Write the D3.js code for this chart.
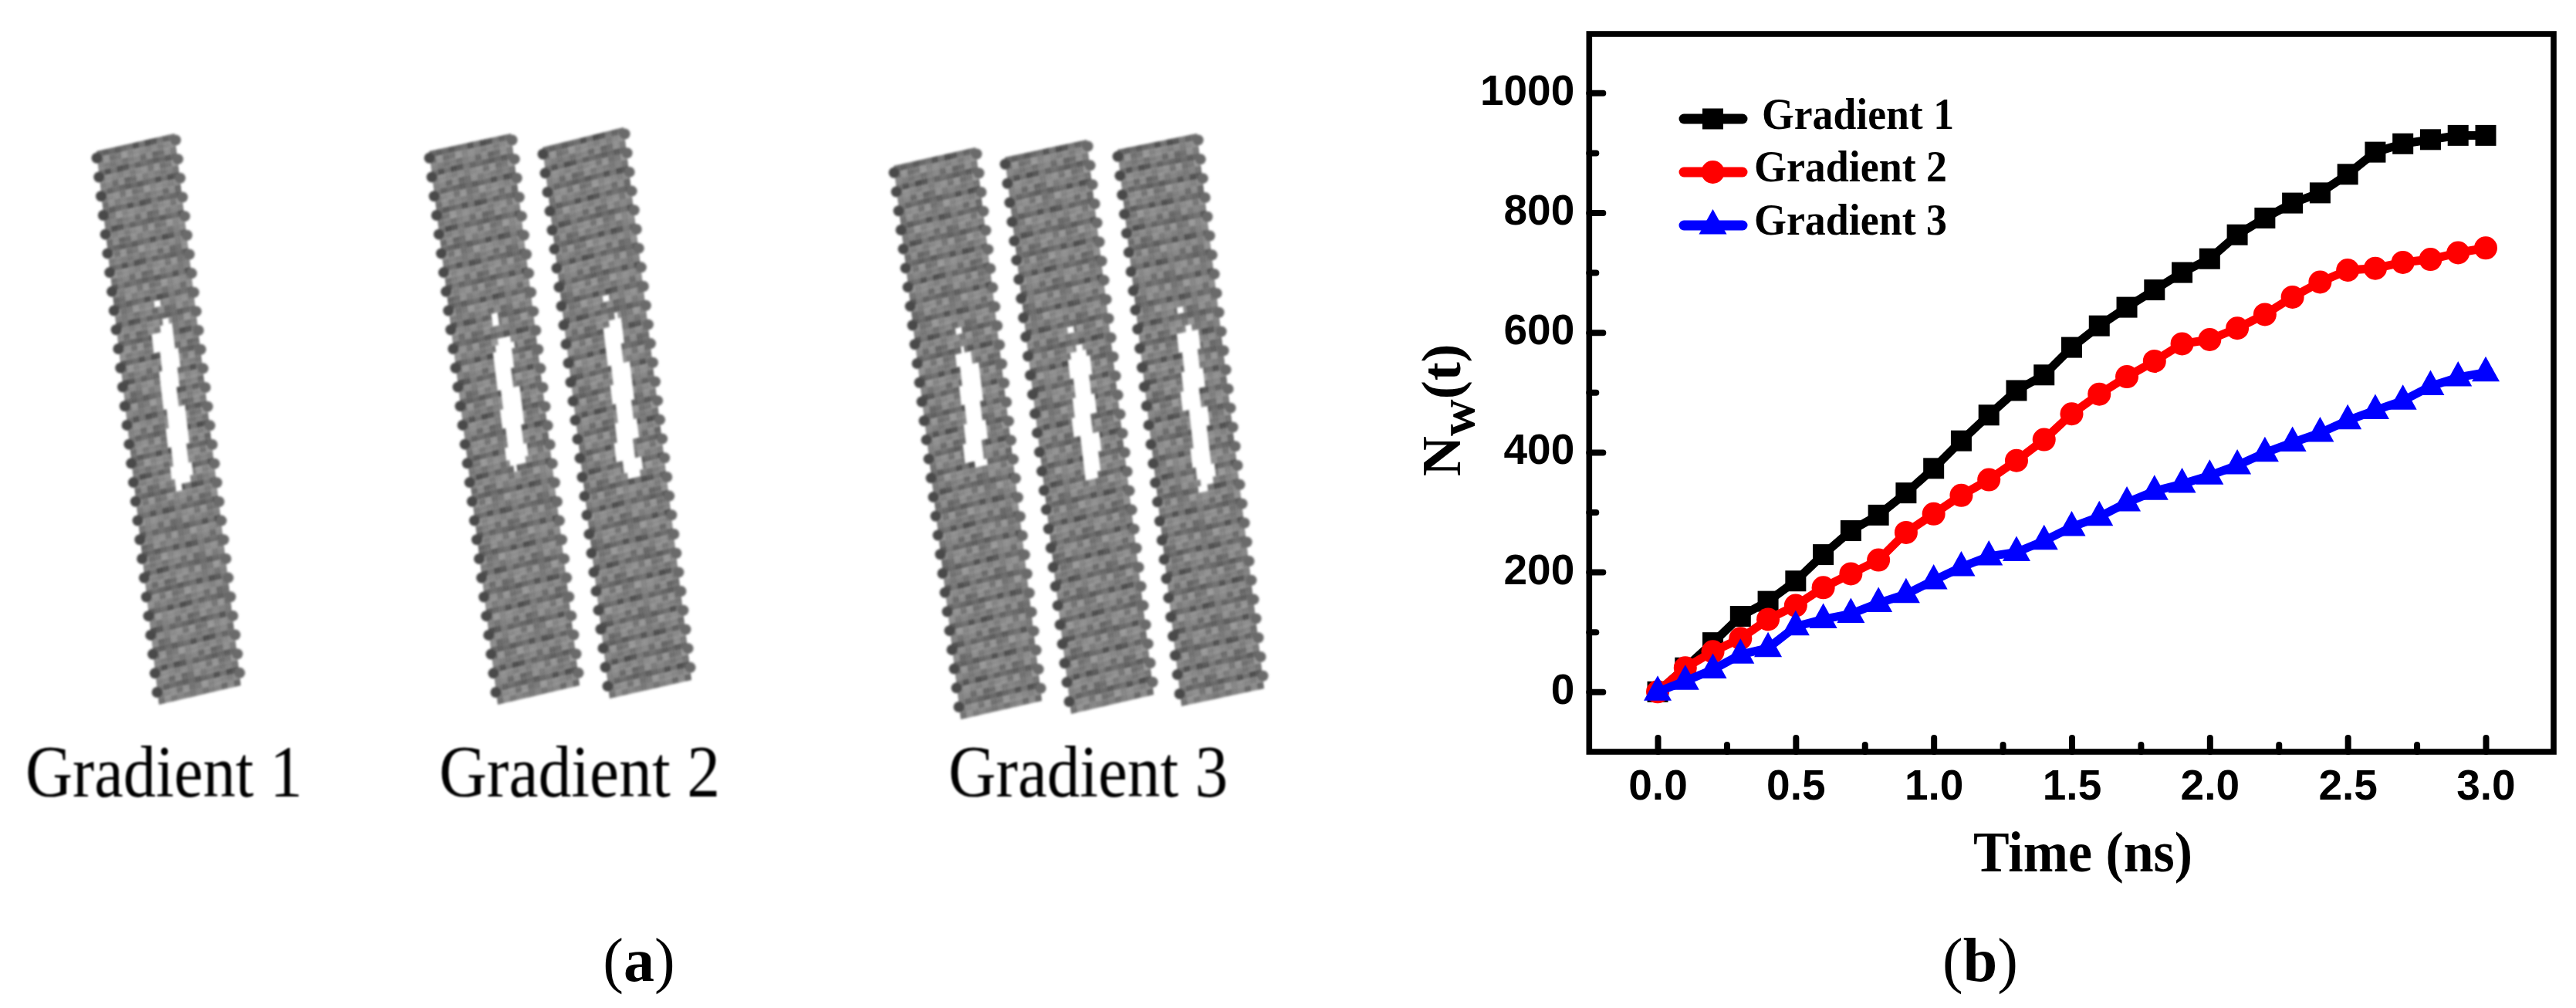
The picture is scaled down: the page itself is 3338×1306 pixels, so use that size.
<!DOCTYPE html>
<html><head><meta charset="utf-8">
<script src="https://cdn.jsdelivr.net/npm/d3@7"></script>
<style>html,body{margin:0;padding:0;background:#fff}svg{display:block}
text{fill:#000}</style></head><body><div id="c"></div>
<script>
// ---- data ----
const times=[0,.1,.2,.3,.4,.5,.6,.7,.8,.9,1,1.1,1.2,1.3,1.4,1.5,1.6,1.7,1.8,1.9,2,2.1,2.2,2.3,2.4,2.5,2.6,2.7,2.8,2.9,3];
const gradient1=[0,40,82,126,151,185,229,269,295,332,373,419,462,503,529,575,611,642,671,700,723,763,791,816,833,864,901,915,922,929,929];
const gradient2=[0,40,67,89,121,144,174,197,220,266,297,328,354,386,421,464,497,526,552,581,588,607,630,659,684,704,707,717,722,733,741];
const gradient3=[0,18,37,62,73,109,121,130,148,163,186,208,226,233,252,275,292,316,335,347,361,378,399,416,432,453,470,486,510,525,533];
const seriesNames=["Gradient 1","Gradient 2","Gradient 3"];
const seriesColors=["#000000","#ff0000","#0000ff"];
const xMajor=[0,.5,1,1.5,2,2.5,3];
const xMinor=[.25,.75,1.25,1.75,2.25,2.75];
const yMajor=[0,200,400,600,800,1000];
const yMinor=[100,300,500,700,900];
// left panel: ribbon outlines [TLx,TLy,TRx,TRy,BRx,BRy,BLx,BLy] and slot extent along ribbon
const ribbonOutlines=[
 [125,196,226,173,312,888,206,913],
 [556,196,662,173,751,888,645,913],
 [703,191,808,165,896,881,790,905],
 [1158,215,1264,191,1350,908,1245,932],
 [1302,204,1408,181,1495,900,1388,925],
 [1448,194,1551,173,1638,892,1531,915]];
const slotStart=[.32,.35,.325,.345,.355,.33];
const slotEnd=[.635,.595,.63,.57,.605,.635];
const slotWobble=[0,.03,-.02,.04,.01,-.03,.02,.045,-.015,.025,-.03,.03,0];
const panelLabels=[["Gradient 1",33,359],["Gradient 2",569,364],["Gradient 3",1229,362]];
const grayCycle=[128,112,138,120,146,108,132,124,142,116,136,104,130];

// ---- layout ----
const W=3338,H=1306;
const svg=d3.select("#c").append("svg").attr("width",W).attr("height",H).attr("viewBox",`0 0 ${W} ${H}`);
svg.append("rect").attr("width",W).attr("height",H).attr("fill","#fff");
const serif='"Liberation Serif","Times New Roman",serif', sans='"Liberation Sans",Arial,sans-serif';
const defs=svg.append("defs");
defs.append("filter").attr("id","soft").attr("x","-5%").attr("y","-5%").attr("width","110%").attr("height","110%")
  .append("feGaussianBlur").attr("stdDeviation",1.5);
defs.append("filter").attr("id","softText").attr("x","-5%").attr("y","-15%").attr("width","110%").attr("height","130%")
  .append("feGaussianBlur").attr("stdDeviation",.8);

// ---- left panel ----
const rows=29, sub=3, cols=13;
const panel=svg.append("g").attr("filter","url(#soft)");
ribbonOutlines.forEach((o,i)=>{
  const [ax,ay,bx,by,cx,cy,dx,dy]=o;
  const L=d3.interpolateArray([ax,ay],[dx,dy]), R=d3.interpolateArray([bx,by],[cx,cy]);
  const pt=(u,t)=>{const l=L(t),r=R(t);return [l[0]+(r[0]-l[0])*u,l[1]+(r[1]-l[1])*u];};
  const g=panel.append("g");
  const cells=[];
  d3.range(rows*sub).forEach(r=>d3.range(cols*2).forEach(c=>cells.push({r,c})));
  const inSlot=(u,t,r)=>{
    const a=slotStart[i],b=slotEnd[i];
    if(t<a||t>b) return false;
    const k=(t-a)/(b-a), taper=Math.min(1,Math.min(k,1-k)*12);
    const w=slotWobble[(Math.floor(r/sub)+i)%slotWobble.length];
    const ww=slotWobble[(Math.floor(r/sub)+i+5)%slotWobble.length];
    return u>.585-.115*taper+w && u<.585+.115*taper+ww;
  };
  g.selectAll("path").data(cells.filter(d=>{
      const t=(d.r+.5)/(rows*sub),u=(d.c+.5)/(cols*2);
      const nick=Math.abs(t-(slotStart[i]-.028))<.007&&Math.abs(u-.54)<.04;
      return !inSlot(u,t,d.r)&&!nick;
    })).join("path")
    .attr("d",d=>{
      const t0=d.r/(rows*sub),t1=(d.r+1)/(rows*sub),u0=d.c/(cols*2),u1=(d.c+1)/(cols*2);
      return "M"+[pt(u0,t0),pt(u1,t0),pt(u1,t1),pt(u0,t1)].map(p=>p.join(",")).join("L")+"Z";
    })
    .attr("stroke","none")
    .attr("fill",d=>{
      const base=grayCycle[(Math.floor(d.c/2)*3+d.r*5)%grayCycle.length];
      const v=d.r%sub===0?base-30:d.r%sub===1?base+4:base-6;
      return d3.rgb(v,v,v).formatHex();
    });
  // bead bumps along the two long edges
  const beads=d3.range(rows).map(r=>(r+.35)/rows);
  g.selectAll("circle.l").data(beads).join("circle").attr("class","l")
    .attr("cx",t=>pt(-.005,t)[0]).attr("cy",t=>pt(-.005,t)[1]).attr("r",7).attr("fill","#4a4a4a");
  g.selectAll("circle.r").data(beads).join("circle").attr("class","r")
    .attr("cx",t=>pt(1.005,t)[0]).attr("cy",t=>pt(1.005,t)[1]).attr("r",7).attr("fill","#6a6a6a");
});
panelLabels.forEach(([t,px,w])=>{
  svg.append("text").attr("x",px).attr("y",1032).attr("font-family",serif).attr("font-size",96)
    .attr("textLength",w).attr("lengthAdjust","spacingAndGlyphs").attr("filter","url(#softText)").text(t);
});
const cap=(px,letter)=>{
  const t=svg.append("text").attr("x",px).attr("y",1271).attr("text-anchor","middle").attr("font-family",serif).attr("font-size",80);
  t.append("tspan").text("(");
  t.append("tspan").attr("font-weight","bold").text(letter);
  t.append("tspan").text(")");
};
cap(828,"a"); cap(2566,"b");

// ---- right panel ----
const x=d3.scaleLinear().domain([-.25,3.25]).range([2058.6,3310.4]);
const y=d3.scaleLinear().domain([-100,1100]).range([973.9,42.7]);
const axisStyle=(g,w)=>{g.select(".domain").remove();
  g.selectAll(".tick line").attr("stroke","#000").attr("stroke-width",w).attr("stroke-linecap","round");};
const frameBottom=974, frameLeft=2059.3, frameTop=44, frameRight=3309;
const tickFont=55;
svg.append("g").attr("transform",`translate(0,${frameBottom})`)
  .call(d3.axisBottom(x).tickValues(xMajor).tickSize(-18).tickPadding(0).tickFormat(d3.format(".1f")))
  .call(g=>{axisStyle(g,8);g.selectAll("text").attr("font-family",sans).attr("font-weight","bold").attr("font-size",tickFont)
     .attr("fill","#000").attr("dy",null).attr("y",62);});
svg.append("g").attr("transform",`translate(0,${frameBottom})`)
  .call(d3.axisBottom(x).tickValues(xMinor).tickSize(-9).tickFormat(""))
  .call(g=>axisStyle(g,8));
svg.append("g").attr("transform",`translate(${frameLeft},0)`)
  .call(d3.axisLeft(y).tickValues(yMajor).tickSize(-18).tickPadding(0).tickFormat(d3.format("d")))
  .call(g=>{axisStyle(g,8);g.selectAll("text").attr("font-family",sans).attr("font-weight","bold").attr("font-size",tickFont)
     .attr("fill","#000").attr("x",-19).attr("dy",15);});
svg.append("g").attr("transform",`translate(${frameLeft},0)`)
  .call(d3.axisLeft(y).tickValues(yMinor).tickSize(-9).tickFormat(""))
  .call(g=>axisStyle(g,8));
svg.append("rect").attr("x",frameLeft).attr("y",frameTop).attr("width",frameRight-frameLeft).attr("height",frameBottom-frameTop)
  .attr("fill","none").attr("stroke","#000").attr("stroke-width",7.6);

const line=d3.line().x((d,i)=>x(times[i])).y(d=>y(d));
const markerPaths=[
  "M-13.5,-13.5H13.5V13.5H-13.5Z",
  d3.arc()({innerRadius:0,outerRadius:15,startAngle:0,endAngle:2*Math.PI}),
  "M0,-21L18,11.5H-18Z"];
[gradient1,gradient2,gradient3].forEach((vals,k)=>{
  const g=svg.append("g");
  g.append("path").attr("d",line(vals)).attr("fill","none").attr("stroke",seriesColors[k]).attr("stroke-width",11).attr("stroke-linejoin","round");
  g.selectAll("path.m").data(vals).join("path").attr("class","m").attr("d",markerPaths[k]).attr("fill",seriesColors[k])
    .attr("transform",(d,i)=>`translate(${x(times[i])},${y(d)})`);
});

// legend
const legendY=[154,223,292], legendTextX=[2283,2273,2273], legendBase=[167,235,304], legendW=[249,250,250];
seriesNames.forEach((n,k)=>{
  const g=svg.append("g");
  g.append("line").attr("x1",2182).attr("x2",2258).attr("y1",legendY[k]).attr("y2",legendY[k])
    .attr("stroke",seriesColors[k]).attr("stroke-width",13).attr("stroke-linecap","round");
  g.append("path").attr("d",markerPaths[k]).attr("fill",seriesColors[k]).attr("transform",`translate(2219.5,${legendY[k]})`);
  g.append("text").attr("x",legendTextX[k]).attr("y",legendBase[k]).attr("font-family",serif).attr("font-weight","bold")
    .attr("font-size",58).attr("textLength",legendW[k]).attr("lengthAdjust","spacingAndGlyphs").text(n);
});

// axis titles
svg.append("text").attr("x",2557).attr("y",1129).attr("font-family",serif).attr("font-weight","bold").attr("font-size",74)
  .attr("textLength",284).attr("lengthAdjust","spacingAndGlyphs").text("Time (ns)");
const yt=svg.append("text").attr("transform","translate(1892,617) rotate(-90)").attr("font-family",serif).attr("font-weight","bold").attr("font-size",72);
yt.append("tspan").text("N");
yt.append("tspan").attr("font-size",66).attr("dy",18).text("w");
yt.append("tspan").attr("dy",-18).text("(t)");
</script></body></html>
